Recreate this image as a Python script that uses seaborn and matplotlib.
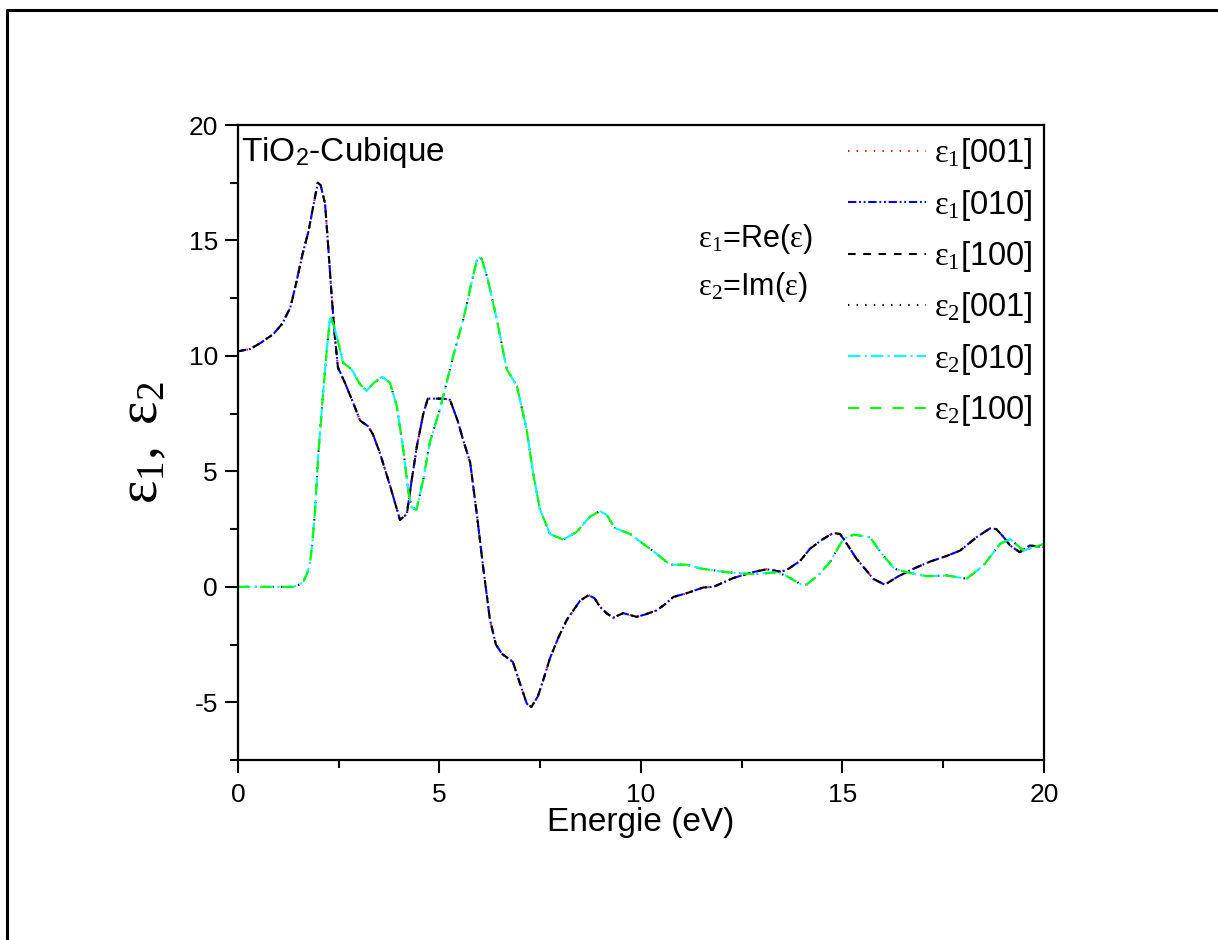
import matplotlib
matplotlib.use("Agg")
from matplotlib import pyplot as plt
from matplotlib.lines import Line2D
import numpy as np
import pandas as pd
import seaborn as sns

e1_energy = [0.0, 0.3, 0.55, 0.88, 1.1, 1.3, 1.45, 1.6, 1.75, 1.88, 1.98, 2.05, 2.16, 2.24,
             2.32, 2.4, 2.48, 2.65, 2.85, 3.03, 3.23, 3.35, 3.52, 3.77, 4.02, 4.19, 4.3, 4.44,
             4.6, 4.71, 5.09, 5.26, 5.45, 5.58, 5.76, 5.93, 6.08, 6.25, 6.4, 6.55, 6.82, 7.0,
             7.17, 7.28, 7.44, 7.6, 7.74, 7.95, 8.16, 8.35, 8.49, 8.7, 8.85, 8.98, 9.15, 9.31,
             9.56, 9.89, 10.1, 10.39, 10.6, 10.8, 11.13, 11.54, 11.8, 12.29, 12.79, 13.12,
             13.45, 13.61, 13.95, 14.19, 14.5, 14.77, 14.94, 15.15, 15.35, 15.55, 15.76, 16.05,
             16.35, 16.76, 17.17, 17.59, 17.92, 18.33, 18.66, 18.82, 19.0, 19.16, 19.4, 19.65, 20.0]
e1_values = [10.2, 10.3, 10.55, 10.95, 11.4, 12.1, 13.2, 14.4, 15.4, 16.6, 17.5, 17.4, 16.6, 14.7,
             12.7, 10.9, 9.5, 8.85, 8.0, 7.2, 6.95, 6.6, 5.8, 4.4, 2.9, 3.15, 4.5, 6.1,
             7.5, 8.15, 8.15, 8.1, 7.2, 6.4, 5.4, 3.1, 0.9, -1.4, -2.5, -2.9, -3.25, -4.2,
             -5.07, -5.2, -4.75, -3.9, -3.1, -2.2, -1.43, -0.95, -0.6, -0.36, -0.5, -0.86, -1.15, -1.34,
             -1.14, -1.3, -1.2, -1.02, -0.75, -0.44, -0.28, -0.03, 0.0, 0.38, 0.64, 0.76,
             0.66, 0.72, 1.12, 1.64, 2.05, 2.33, 2.29, 1.75, 1.21, 0.8, 0.35, 0.09,
             0.42, 0.78, 1.09, 1.34, 1.57, 2.15, 2.53, 2.5, 2.15, 1.79, 1.5, 1.79, 1.72]

# Imaginary part (eps2)
e2_energy = [0.0, 0.5, 1.0, 1.37, 1.5, 1.62, 1.72, 1.79, 1.85, 1.91, 1.99, 2.1, 2.2, 2.28, 2.31,
             2.38, 2.49, 2.61, 2.82, 3.03, 3.19, 3.35, 3.57, 3.77, 3.94, 4.1, 4.23, 4.31, 4.43,
             4.6, 4.76, 5.01, 5.2, 5.34, 5.59, 5.8, 5.95, 6.05, 6.2, 6.42, 6.67, 6.92, 7.16,
             7.33, 7.49, 7.74, 8.07, 8.4, 8.73, 8.98, 9.15, 9.35, 9.73, 9.98, 10.3, 10.72,
             11.13, 11.46, 12.13, 12.78, 13.37, 13.61, 13.95, 14.11, 14.4, 14.69, 15.02, 15.27,
             15.68, 16.01, 16.3, 16.59, 17.09, 17.59, 18.08, 18.5, 18.91, 19.16, 19.49, 19.74, 20.0]
e2_values = [0.0, 0.0, 0.0, 0.0, 0.08, 0.23, 0.6, 1.07, 2.0, 3.23, 5.67, 8.12, 10.2, 11.58, 11.65,
             11.3, 10.57, 9.7, 9.42, 8.77, 8.48, 8.8, 9.1, 8.84, 7.83, 5.96, 4.09, 3.44, 3.34,
             4.67, 6.25, 7.69, 9.0, 9.99, 11.58, 13.2, 14.3, 14.2, 13.3, 11.6, 9.42, 8.7, 6.84,
             4.85, 3.37, 2.29, 2.04, 2.37, 3.03, 3.28, 3.11, 2.55, 2.29, 1.96, 1.55, 0.96,
             0.96, 0.8, 0.63, 0.55, 0.63, 0.47, 0.13, 0.1, 0.5, 1.07, 2.07, 2.26,
             2.15, 1.35, 0.78, 0.63, 0.46, 0.49, 0.35, 0.92, 1.86, 2.07, 1.57, 1.71, 1.86]

directions = ["001", "010", "100"]
e1_colors = ["#ff0000", "#0000ff", "#000000"]
e2_colors = ["#000000", "#00ffff", "#00ff00"]
e1_styles = [(0, (1.0, 5.2)), (0, (6, 2, 1.3, 2, 1.3, 2)), (0, (5.5, 5.5))]
e2_styles = [(0, (1.0, 5.2)), (0, (9, 3, 1.5, 3)), (0, (8, 8))]

sns.set_theme(style="ticks")
plt.rcParams["font.family"] = ["Liberation Sans", "DejaVu Sans"]
plt.rcParams["mathtext.fontset"] = "custom"
plt.rcParams["mathtext.rm"] = "Liberation Serif"
plt.rcParams["mathtext.it"] = "Liberation Serif:italic"
plt.rcParams["mathtext.sf"] = "Liberation Sans"
plt.rcParams["lines.scale_dashes"] = False
plt.rcParams["axes.unicode_minus"] = False
for key in ["text.color", "axes.labelcolor", "xtick.color", "ytick.color", "axes.edgecolor"]:
    plt.rcParams[key] = "black"

fig = plt.figure(figsize=(12.18, 9.4), dpi=100)
ax = fig.add_axes([0.1954, 0.1915, 0.6617, 0.6755])

e1_df = pd.DataFrame({"E": e1_energy, "eps": e1_values})
e2_df = pd.DataFrame({"E": e2_energy, "eps": e2_values})

for d, c, ls in zip(directions, e1_colors, e1_styles):
    sns.lineplot(data=e1_df, x="E", y="eps", ax=ax, color=c, linestyle=ls, linewidth=1.5,
                 sort=False, estimator=None, label=r"$\mathrm{ε_1}$[" + d + "]")
for d, c, ls in zip(directions, e2_colors, e2_styles):
    sns.lineplot(data=e2_df, x="E", y="eps", ax=ax, color=c, linestyle=ls, linewidth=1.5,
                 sort=False, estimator=None, label=r"$\mathrm{ε_2}$[" + d + "]")

ax.set_xlim(0, 20)
ax.set_ylim(-7.5, 20)
ax.set_xticks([0, 5, 10, 15, 20])
ax.set_yticks([-5, 0, 5, 10, 15, 20])
ax.set_xticks(np.arange(0, 20.1, 2.5), minor=True)
ax.set_yticks(np.arange(-7.5, 20.1, 2.5), minor=True)
ax.tick_params(which="both", direction="out", width=1.5, color="black",
               top=False, right=False, labelsize=19)
ax.tick_params(axis="x", pad=7)
ax.tick_params(axis="y", pad=5)
ax.tick_params(which="major", length=9.5)
ax.tick_params(which="minor", length=6)
for s in ax.spines.values():
    s.set_linewidth(1.6)

ax.set_xlabel("Energie (eV)", fontsize=24, labelpad=0)
ax.set_ylabel(r"$\mathrm{ε_1,\ ε_2}$", fontsize=40, labelpad=14)

ax.text(0.004, 0.985, r"TiO$_\mathsf{2}$-Cubique", transform=ax.transAxes,
        fontsize=24, ha="left", va="top")
ax.text(0.571, 0.82, r"$\mathrm{ε_1}$=Re($\mathrm{ε}$)", transform=ax.transAxes,
        fontsize=22, ha="left", va="center")
ax.text(0.571, 0.745, r"$\mathrm{ε_2}$=Im($\mathrm{ε}$)", transform=ax.transAxes,
        fontsize=22, ha="left", va="center")

ax.legend(loc="upper right", frameon=False, fontsize=23.5, handlelength=2.4,
          handletextpad=0.25, labelspacing=0.5, borderaxespad=0.1, borderpad=0.25)

# outer frame of the original graph page (left and top edges only visible)
fig.add_artist(Line2D([0.0057, 0.0057, 0.999], [0.0, 0.9894, 0.9894], transform=fig.transFigure,
                      color="black", linewidth=2.2))

fig.savefig("out.png", dpi=100, facecolor="white")
